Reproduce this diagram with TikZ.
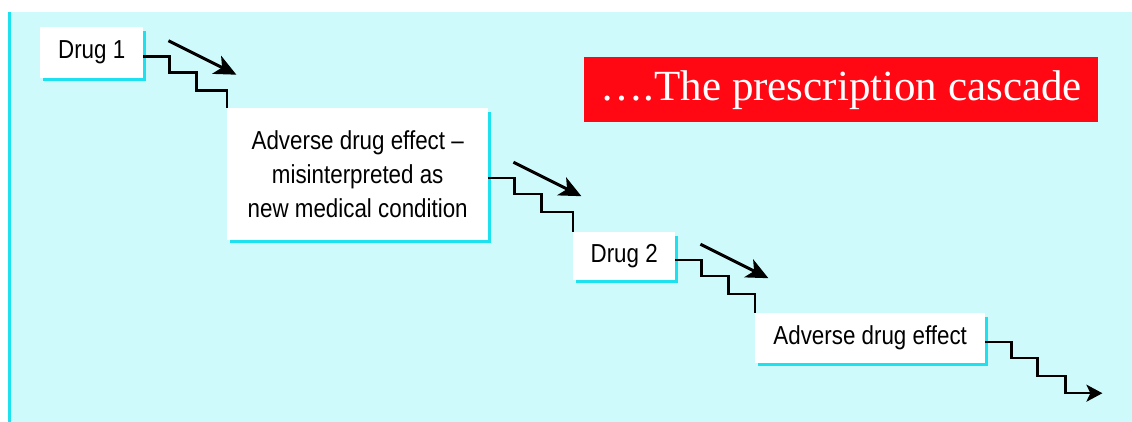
\documentclass[tikz,border=0pt]{standalone}
\usepackage{fontspec}
\usepackage{xcolor}
\usepackage{tikz}
\usetikzlibrary{arrows.meta,positioning}
\newfontfamily\boxfont[FakeStretch=0.86]{Liberation Sans}
\newfontfamily\titlefont{Liberation Serif}
\definecolor{bgcyan}{RGB}{206,250,252}
\definecolor{edgecyan}{RGB}{30,225,240}
\definecolor{titlered}{RGB}{255,8,20}

\begin{document}
\begin{tikzpicture}[x=1pt,y=-1pt, box/.style={fill=white,inner sep=0pt,align=center,anchor=north west,
  font={\boxfont\fontsize{26}{34}\selectfont}}, edgeline/.style={edgecyan,line width=3pt},
  stair/.style={line width=2.4pt}, bigarrow/.style={line width=3pt,-{Stealth[length=22pt,width=20pt,inset=6pt]}}]
\useasboundingbox (0,0) rectangle (1132,422);
\fill[bgcyan] (8,12) rectangle (1132,422);
\draw[edgeline] (9.5,12) -- (9.5,422);
\node[box,minimum width=103pt,minimum height=51pt] (drug1) at (40,27) {Drug 1};
\node[box,minimum width=261pt,minimum height=132pt] (effect1) at (227,108)
  {Adverse drug effect –\\ misinterpreted as\\ new medical condition};
\node[box,minimum width=102pt,minimum height=48pt] (drug2) at (573,232) {Drug 2};
\node[box,minimum width=230pt,minimum height=50pt] (effect2) at (755,313) {Adverse drug effect};
\node[fill=titlered,text=white,anchor=north west,minimum width=514pt,minimum height=65pt,inner sep=0pt,
  font={\titlefont\fontsize{43}{43}\selectfont}] (title) at (584,57) {….The prescription cascade};
% cyan edges under each box
\foreach \n in {drug1,effect1,drug2,effect2}
  \draw[edgeline] ([shift={(3,1.5)}]\n.south west) -| ([shift={(1.5,4)}]\n.north east);
% steps and arrows
\foreach \a/\b in {drug1/effect1,effect1/drug2,drug2/effect2} {
  \draw[stair] ([yshift=-4pt]\a.east) -- ++(26,0) -- ++(0,16) -- ++(27,0) -- ++(0,18) -| (\b.north west);
  \draw[bigarrow] ([shift={(25,-12)}]\a.east) -- ([shift={(93,22)}]\a.east);
}
\draw[stair,-{Stealth[length=16pt,width=17pt,inset=4pt]}] ([yshift=-4pt]effect2.east) -- ++(26,0)
  -- ++(0,16) -- ++(26,0) -- ++(0,18) -- ++(28,0) -- ++(0,17) -- ++(37,0);
\end{tikzpicture}
\end{document}
